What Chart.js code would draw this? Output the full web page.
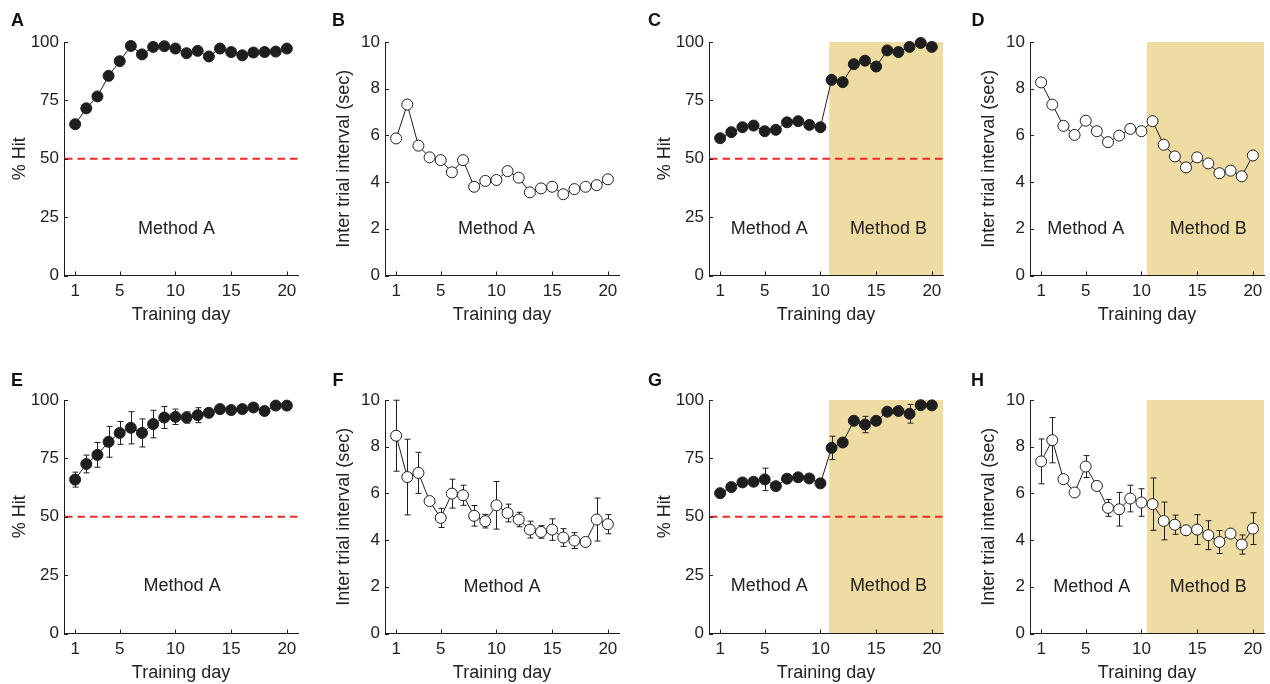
<!DOCTYPE html>
<html>
<head>
<meta charset="utf-8">
<script src="https://cdn.jsdelivr.net/npm/chart.js@4.4.1/dist/chart.umd.min.js"></script>
<style>
body { margin: 0; background: #fff; }
#fig { position: relative; width: 1270px; height: 684px; overflow: hidden; }
#fig canvas { position: absolute; }
</style>
</head>
<body>
<div id="fig"></div>
<script>
// training days and tick labels
const days = [1, 2, 3, 4, 5, 6, 7, 8, 9, 10, 11, 12, 13, 14, 15, 16, 17, 18, 19, 20]
const dayTicks = [1, 5, 10, 15, 20]
const hitTicks = [0, 25, 50, 75, 100]
const itiTicks = [0, 2, 4, 6, 8, 10]

// A / B  (method A only, single animal)
const hitA = [64.8, 71.6, 76.7, 85.5, 91.8, 98.3, 94.7, 97.9, 98.2, 97.2, 95.2, 96.2, 93.8, 97.2, 95.7, 94.3, 95.5, 95.7, 95.9, 97.2]
const itiB = [5.87, 7.32, 5.56, 5.06, 4.94, 4.42, 4.94, 3.80, 4.05, 4.09, 4.47, 4.19, 3.56, 3.73, 3.80, 3.48, 3.70, 3.80, 3.87, 4.12]

// C / D  (method A then B, single animal)
const hitC = [58.8, 61.4, 63.5, 64.2, 61.8, 62.4, 65.6, 66.1, 64.5, 63.5, 83.8, 82.8, 90.5, 92.0, 89.5, 96.4, 95.7, 97.9, 99.6, 97.9]
const itiD = [8.27, 7.32, 6.41, 6.02, 6.63, 6.18, 5.71, 5.99, 6.28, 6.18, 6.61, 5.60, 5.10, 4.63, 5.06, 4.80, 4.38, 4.49, 4.25, 5.14]

// E / F  (method A, group mean +- sem)
const hitE = [65.9, 72.6, 76.5, 82.1, 85.9, 88.1, 85.9, 89.7, 92.5, 92.8, 92.5, 93.5, 94.5, 96.1, 95.7, 96.1, 96.8, 95.3, 97.6, 97.6]
const hitEErr = [3.2, 3.8, 5.3, 6.6, 4.9, 6.9, 6.0, 5.9, 4.7, 3.3, 2.4, 3.2, 1.0, 0.8, 0.5, 0.5, 0.5, 1.0, 0.5, 0.5]
const itiF = [8.47, 6.70, 6.88, 5.67, 4.95, 5.99, 5.92, 5.04, 4.81, 5.49, 5.16, 4.88, 4.45, 4.35, 4.45, 4.11, 3.98, 3.92, 4.88, 4.68]
const itiFErr = [1.52, 1.62, 0.88, 0.1, 0.41, 0.62, 0.43, 0.44, 0.29, 1.02, 0.38, 0.31, 0.36, 0.27, 0.46, 0.38, 0.34, 0.1, 0.92, 0.41]

// G / H  (method A then B, group mean +- sem)
const hitG = [60.1, 62.7, 64.7, 65.0, 66.0, 63.1, 66.3, 66.9, 66.4, 64.3, 79.5, 81.8, 91.1, 89.5, 91.1, 95.0, 95.3, 94.1, 97.8, 97.7]
const hitGErr = [0.8, 0.8, 0.8, 0.8, 4.8, 0.8, 0.8, 0.8, 0.8, 0.8, 5.0, 0.8, 0.8, 3.5, 0.8, 0.8, 0.8, 4.0, 0.8, 0.8]
const itiH = [7.37, 8.28, 6.61, 6.04, 7.15, 6.32, 5.38, 5.32, 5.78, 5.61, 5.54, 4.82, 4.66, 4.42, 4.45, 4.21, 3.92, 4.28, 3.81, 4.49]
const itiHErr = [0.96, 0.97, 0.1, 0.1, 0.47, 0.1, 0.36, 0.72, 0.57, 0.59, 1.12, 0.81, 0.41, 0.1, 0.64, 0.62, 0.49, 0.15, 0.41, 0.68]


const FONT = '"Liberation Sans", Arial, Helvetica, sans-serif'
const INK = '#1e1e1e'
const SHADE = '#efdca2'

const panels = [
    { id: 'A', left: 0,   top: 0,   letterX: 17.5, vals: hitA, kind: 'hit', filled: true,
      methods: [['Method A', 10.1, 20]] },
    { id: 'B', left: 321, top: 0,   letterX: 17.5, vals: itiB, kind: 'iti', filled: false,
      methods: [['Method A', 10, 2]] },
    { id: 'C', left: 645, top: 0,   letterX: 9.5, vals: hitC, kind: 'hit', filled: true, shade: 10.78,
      methods: [['Method A', 5.4, 20], ['Method B', 16.1, 20]] },
    { id: 'D', left: 966, top: 0,   letterX: 12, vals: itiD, kind: 'iti', filled: false, shade: 10.5,
      methods: [['Method A', 5.0, 2], ['Method B', 16, 2]] },
    { id: 'E', left: 0,   top: 358, letterX: 17, vals: hitE, err: hitEErr, kind: 'hit', filled: true,
      methods: [['Method A', 10.6, 20.4]] },
    { id: 'F', left: 321, top: 358, letterX: 17, vals: itiF, err: itiFErr, kind: 'iti', filled: false,
      methods: [['Method A', 10.5, 2]] },
    { id: 'G', left: 645, top: 358, letterX: 10, vals: hitG, err: hitGErr, kind: 'hit', filled: true, shade: 10.78,
      methods: [['Method A', 5.4, 20.4], ['Method B', 16.1, 20.4]] },
    { id: 'H', left: 966, top: 358, letterX: 11.5, vals: itiH, err: itiHErr, kind: 'iti', filled: false, shade: 10.5,
      methods: [['Method A', 5.55, 2], ['Method B', 16, 2]] },
]

const extras = {}

const panelPlugin = {
    id: 'panelExtras',
    beforeDraw(chart) {
        const p = extras[chart.canvas.id]
        const { ctx, chartArea, scales } = chart
        if (p.shade) {
            const x0 = scales.x.getPixelForValue(p.shade)
            ctx.save()
            ctx.fillStyle = SHADE
            ctx.fillRect(x0, chartArea.top, chartArea.right - x0, chartArea.bottom - chartArea.top)
            ctx.restore()
        }
    },
    beforeDatasetsDraw(chart) {
        const p = extras[chart.canvas.id]
        const { ctx, chartArea, scales } = chart
        ctx.save()
        if (p.kind === 'hit') {
            const y50 = scales.y.getPixelForValue(50)
            ctx.strokeStyle = '#ee2a2a'
            ctx.lineWidth = 2
            ctx.setLineDash([7.5, 5])
            ctx.beginPath()
            ctx.moveTo(chartArea.left + 1, y50)
            ctx.lineTo(chartArea.right, y50)
            ctx.stroke()
            ctx.setLineDash([])
        }
        if (p.err) {
            ctx.strokeStyle = INK
            ctx.lineWidth = 1
            days.forEach((d, i) => {
                const px = Math.round(scales.x.getPixelForValue(d)) + 0.5
                const hi = scales.y.getPixelForValue(p.vals[i] + p.err[i])
                const lo = scales.y.getPixelForValue(p.vals[i] - p.err[i])
                ctx.beginPath()
                ctx.moveTo(px, hi); ctx.lineTo(px, lo)
                ctx.moveTo(px - 3, hi); ctx.lineTo(px + 3, hi)
                ctx.moveTo(px - 3, lo); ctx.lineTo(px + 3, lo)
                ctx.stroke()
            })
        }
        ctx.restore()
    },
    afterDraw(chart) {
        const p = extras[chart.canvas.id]
        const { ctx, chartArea, scales } = chart
        ctx.save()
        // inward ticks
        ctx.strokeStyle = INK
        ctx.lineWidth = 1
        ctx.beginPath()
        scales.y.ticks.forEach(t => {
            const py = Math.round(scales.y.getPixelForValue(t.value)) + 0.5
            ctx.moveTo(chartArea.left, py); ctx.lineTo(chartArea.left + 4, py)
        })
        scales.x.ticks.forEach(t => {
            const px = Math.round(scales.x.getPixelForValue(t.value)) + 0.5
            ctx.moveTo(px, chartArea.bottom); ctx.lineTo(px, chartArea.bottom - 4)
        })
        ctx.stroke()

        ctx.fillStyle = '#222'
        ctx.font = '18px ' + FONT
        ctx.textAlign = 'center'
        ctx.textBaseline = 'middle'
        p.methods.forEach(m => {
            ctx.fillText(m[0], scales.x.getPixelForValue(m[1]), scales.y.getPixelForValue(m[2]))
        })

        ctx.font = 'bold 18px ' + FONT
        ctx.fillStyle = '#111'
        ctx.fillText(p.id, p.letterX, p.top ? 23 : 21)
        ctx.restore()
    }
}

function makePanel(p) {
    const cv = document.createElement('canvas')
    cv.id = 'panel' + p.id
    cv.width = 310
    cv.height = 330
    cv.style.left = p.left + 'px'
    cv.style.top = p.top + 'px'
    document.querySelector('#fig').appendChild(cv)
    extras[cv.id] = p

    const isHit = p.kind === 'hit'
    const yTicks = isHit ? hitTicks : itiTicks

    new Chart(cv.getContext('2d'), {
        type: 'line',
        data: {
            datasets: [{
                data: days.map((d, i) => ({ x: d, y: p.vals[i] })),
                borderColor: INK,
                borderWidth: 1,
                pointRadius: 5.5,
                pointBorderWidth: 1,
                pointBorderColor: INK,
                pointBackgroundColor: p.filled ? INK : '#fff',
                tension: 0,
                clip: false,
            }]
        },
        options: {
            responsive: false,
            animation: false,
            devicePixelRatio: 1,
            events: [],
            layout: { padding: { top: 42, right: 12, bottom: 0, left: 0 } },
            plugins: { legend: { display: false }, tooltip: { enabled: false } },
            scales: {
                x: {
                    type: 'linear',
                    min: 0,
                    max: 21,
                    afterBuildTicks: s => { s.ticks = dayTicks.map(v => ({ value: v })) },
                    afterFit: s => { s.height = 54.5 },
                    grid: { display: false, drawTicks: false },
                    border: { display: true, color: INK, width: 1 },
                    ticks: { padding: 5.5, color: '#222', font: { size: 17, family: FONT }, maxRotation: 0 },
                    title: { display: true, text: 'Training day', color: '#222',
                             font: { size: 18, family: FONT }, padding: { top: 0, bottom: 4.5 } }
                },
                y: {
                    type: 'linear',
                    min: 0,
                    max: isHit ? 100 : 10,
                    afterBuildTicks: s => { s.ticks = yTicks.map(v => ({ value: v })) },
                    afterFit: s => { s.width = 64 },
                    grid: { display: false, drawTicks: false },
                    border: { display: true, color: INK, width: 1 },
                    ticks: { padding: 5, color: '#222', font: { size: 17, family: FONT } },
                    title: { display: true, text: isHit ? '% Hit' : 'Inter trial interval (sec)', color: '#222',
                             font: { size: 18, family: FONT }, padding: { top: isHit ? 9 : 12, bottom: 0 } }
                }
            }
        },
        plugins: [panelPlugin]
    })
}

panels.forEach(makePanel)
</script>
</body>
</html>
